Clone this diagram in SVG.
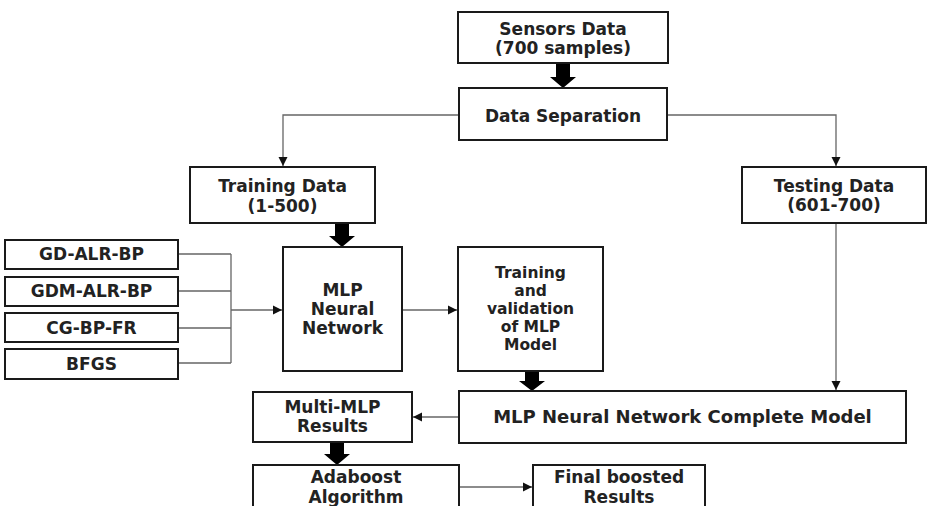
<svg xmlns="http://www.w3.org/2000/svg" width="927" height="506" viewBox="0 0 927 506">
<defs>
<marker id="ah" markerWidth="10" markerHeight="10" refX="9" refY="5" orient="auto" markerUnits="userSpaceOnUse">
<path d="M0,0.5 L9,5 L0,9.5 Z" fill="#111"/>
</marker>
<style>
.box{fill:#fff;stroke:#1a1a1a;stroke-width:2}
.t{font-family:"DejaVu Sans",sans-serif;font-weight:bold;font-size:17px;fill:#222;text-anchor:middle}
.s{font-size:15.5px}
.ln{fill:none;stroke:#666;stroke-width:1.3}
.arr{marker-end:url(#ah)}
.big{fill:#000}
</style>
</defs>
<rect width="927" height="506" fill="#fff"/>
<g id="connectors">
<path class="ln arr" d="M459,115 H283 V166"/>
<path class="ln arr" d="M667,115 H836 V166"/>
<path class="ln" d="M178,254 H231 M178,291 H231 M178,328 H231 M178,363 H231 M231,254 V363"/>
<path class="ln arr" d="M231,310 H282"/>
<path class="ln arr" d="M402,310 H457"/>
<path class="ln arr" d="M836,223 V390"/>
<path class="ln arr" d="M459,417 H413"/>
<path class="ln arr" d="M459,487 H532"/>
<path class="big" d="M556,63 H570 V77 H576 L563,88 L550,77 H556 Z"/>
<path class="big" d="M335,223 H349 V236 H355 L342,247 L329,236 H335 Z"/>
<path class="big" d="M525,371 H539 V381 H545 L532,391 L519,381 H525 Z"/>
<path class="big" d="M330,442 H344 V454 H350 L337,465 L324,454 H330 Z"/>
</g>
<g id="sensors"><rect class="box" x="458" y="12" width="210" height="51"/><text class="t" x="563" y="34.5">Sensors Data</text><text class="t" x="563" y="54">(700 samples)</text></g>
<g id="separation"><rect class="box" x="459" y="88" width="208" height="52"/><text class="t" x="563" y="122">Data Separation</text></g>
<g id="training"><rect class="box" x="190" y="167" width="185" height="56"/><text class="t" x="282.5" y="192">Training Data</text><text class="t" x="282.5" y="212">(1-500)</text></g>
<g id="testing"><rect class="box" x="742" y="167" width="184" height="56"/><text class="t" x="834" y="192">Testing Data</text><text class="t" x="834" y="211">(601-700)</text></g>
<g id="gd"><rect class="box" x="5" y="240" width="173" height="29"/><text class="t" x="91.5" y="260">GD-ALR-BP</text></g>
<g id="gdm"><rect class="box" x="5" y="277" width="173" height="29"/><text class="t" x="91.5" y="297">GDM-ALR-BP</text></g>
<g id="cg"><rect class="box" x="5" y="313" width="173" height="29"/><text class="t" x="91.5" y="334">CG-BP-FR</text></g>
<g id="bfgs"><rect class="box" x="5" y="349" width="173" height="30"/><text class="t" x="91.5" y="370">BFGS</text></g>
<g id="mlp"><rect class="box" x="283" y="247" width="119" height="124"/><text class="t" x="342.5" y="296">MLP</text><text class="t" x="342.5" y="315">Neural</text><text class="t" x="342.5" y="334">Network</text></g>
<g id="validation"><rect class="box" x="458" y="247" width="145" height="124"/><text class="t s" x="530.5" y="278">Training</text><text class="t s" x="530.5" y="296">and</text><text class="t s" x="530.5" y="314">validation</text><text class="t s" x="530.5" y="332">of MLP</text><text class="t s" x="530.5" y="350">Model</text></g>
<g id="complete"><rect class="box" x="459" y="391" width="447" height="52"/><text class="t" x="682.5" y="423" style="font-size:18px">MLP Neural Network Complete Model</text></g>
<g id="multi"><rect class="box" x="253" y="392" width="159" height="50"/><text class="t" x="332.5" y="413">Multi-MLP</text><text class="t" x="332.5" y="432">Results</text></g>
<g id="adaboost"><rect class="box" x="253" y="465" width="206" height="60"/><text class="t" x="356" y="483">Adaboost</text><text class="t" x="356" y="503">Algorithm</text></g>
<g id="final"><rect class="box" x="533" y="465" width="172" height="60"/><text class="t" x="619" y="483">Final boosted</text><text class="t" x="619" y="503">Results</text></g>
</svg>
